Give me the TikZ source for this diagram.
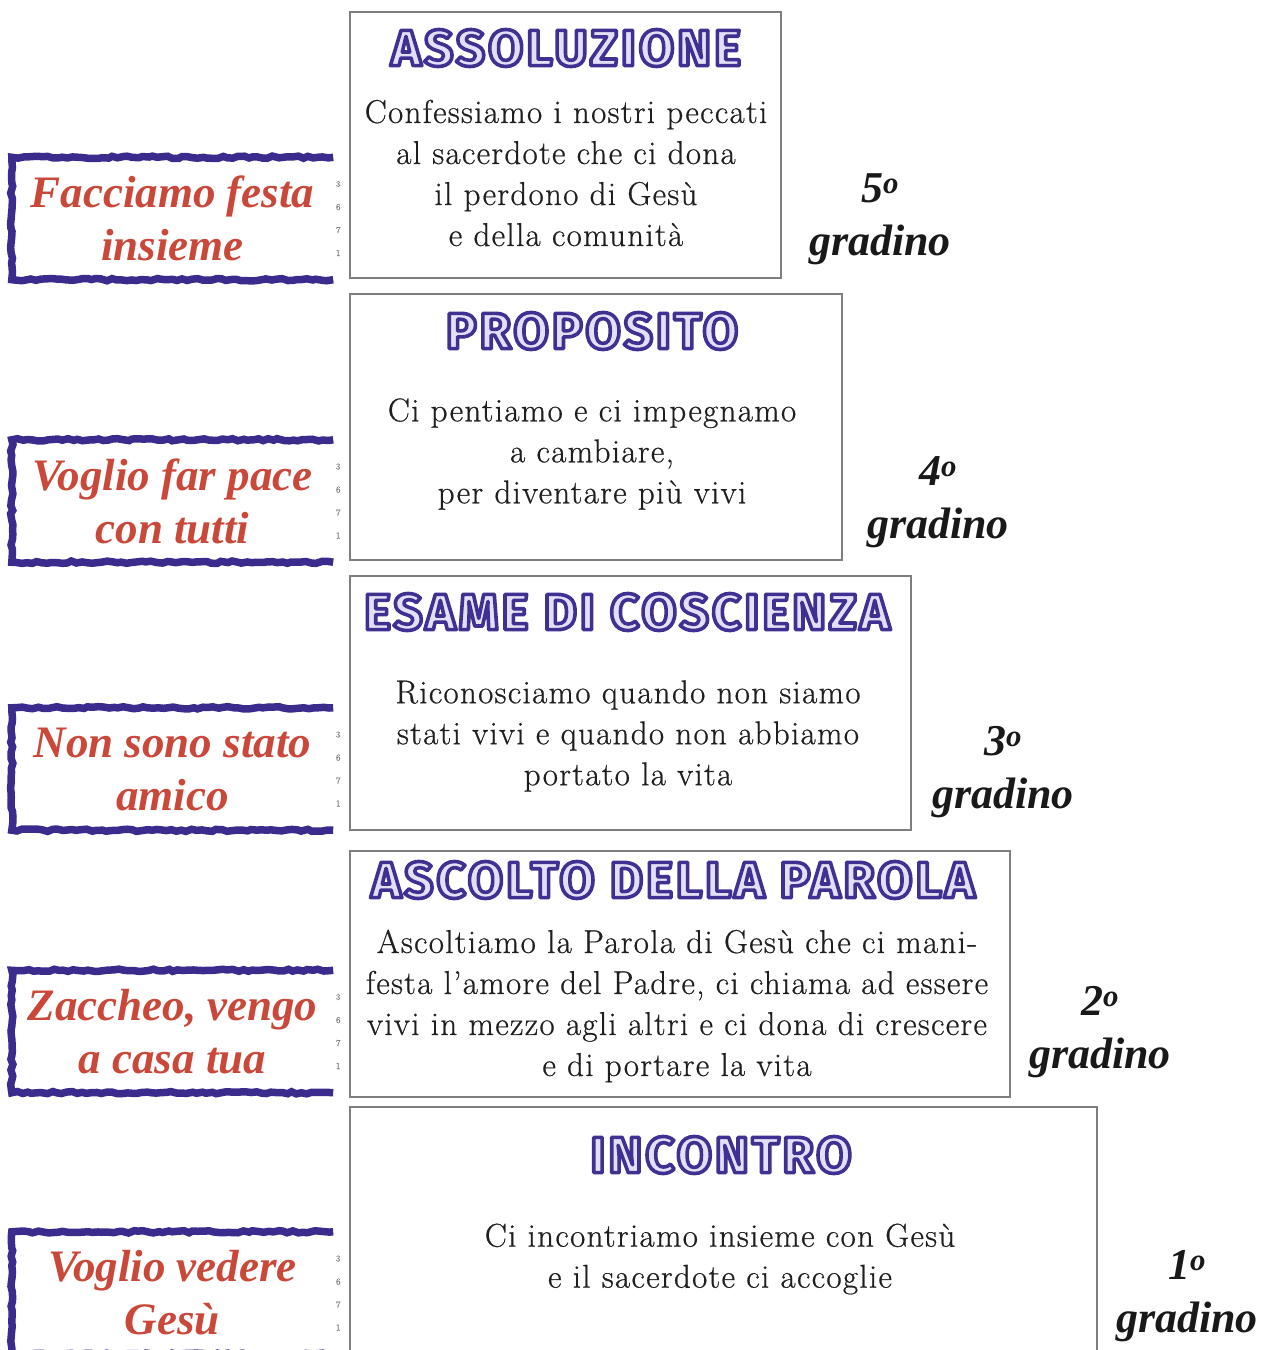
\documentclass[tikz,border=0pt]{standalone}
\usepackage{fontspec}
\usetikzlibrary{decorations.pathmorphing}
\setmainfont[LetterSpace=4, FakeBold=0.6]{Latin Modern Roman}
\newfontfamily\titlefam[LetterSpace=6]{Fira Sans}
\newfontfamily\stampfam{Liberation Serif}
\definecolor{tdark}{HTML}{3F3192}
\definecolor{stampblue}{HTML}{3A2B8C}
\definecolor{stampred}{HTML}{C9483A}
\definecolor{boxgray}{HTML}{7E7E7E}
\newcommand\outlined[1]{\special{pdf:literal direct 2 Tr 3.6 w 1 j 0.90 0.87 0.97 rg}#1\special{pdf:literal direct 0 Tr 1 w 0 j}}
\tikzset{
  stepbox/.style={draw=boxgray, line width=2.4pt, fill=white, inner sep=0pt},
  bodytxt/.style={align=center, font=\fontsize{33}{41}\selectfont, text=black!88, inner sep=0pt},
  titletxt/.style={font=\titlefam\bfseries\fontsize{51}{51}\selectfont, inner sep=0pt},
  stamptxt/.style={align=center, text=stampred, font=\stampfam\bfseries\itshape\fontsize{45}{53}\selectfont, minimum width=321pt, minimum height=122pt, inner sep=0pt},
  stampframe/.style={draw=stampblue, line width=7.5pt, decorate, decoration={random steps, segment length=5pt, amplitude=1.2pt}},
  gradlbl/.style={align=center, font=\stampfam\bfseries\itshape\fontsize{44}{53}\selectfont, text=black!90, inner sep=0pt},
  digits/.style={align=center, font=\fontsize{9}{23}\selectfont, text=gray, inner sep=0pt}
}
\newcommand\fancytitle[3]{%
  \node[titletxt, text=tdark] (#1) at (#2) {\outlined{#3}};}
\newcommand\stamp[3]{%
  \node[stamptxt] (#1) at (#2) {#3};
  \draw[stampframe] (#1.north east) -- (#1.north west) -- (#1.south west) -- (#1.south east);
  \node[digits] (#1d) at ([xshift=5pt]#1.east) {3\\6\\7\\1};}
\begin{document}
\begin{tikzpicture}[x=1pt, y=-1pt]
\useasboundingbox[fill=white] (0,0) rectangle (1266,1350);
% main boxes
\node[stepbox, minimum width=431pt, minimum height=266pt] (b1) at (565.5,145) {};
\node[stepbox, minimum width=492pt, minimum height=266pt] (b2) at (596,427) {};
\node[stepbox, minimum width=561pt, minimum height=254pt] (b3) at (630.5,703) {};
\node[stepbox, minimum width=660pt, minimum height=246pt] (b4) at (680,974) {};
\node[stepbox, minimum width=747pt, minimum height=250pt] (b5) at (723.5,1232) {};
% titles
\fancytitle{t1}{566,48}{ASSOLUZIONE}
\fancytitle{t2}{592,331}{PROPOSITO}
\fancytitle{t3}{627,612}{ESAME DI COSCIENZA}
\fancytitle{t4}{673,880}{ASCOLTO DELLA PAROLA}
\fancytitle{t5}{721,1155}{INCONTRO}
% body texts
\node[bodytxt] (x1) at (566,173) {Confessiamo i nostri peccati\\al sacerdote che ci dona\\il perdono di Gesù\\e della comunità};
\node[bodytxt] (x2) at (592,454) {Ci pentiamo e ci impegnamo\\a cambiare,\\per diventare più vivi};
\node[bodytxt] (x3) at (628,736) {Riconosciamo quando non siamo\\stati vivi e quando non abbiamo\\portato la vita};
\node[bodytxt] (x4) at (677,1006) {Ascoltiamo la Parola di Gesù che ci mani-\\festa l’amore del Padre, ci chiama ad essere\\vivi in mezzo agli altri e ci dona di crescere\\e di portare la vita};
\node[bodytxt] (x5) at (720,1259) {Ci incontriamo insieme con Gesù\\e il sacerdote ci accoglie};
% stamps
\stamp{s1}{172.5,218.5}{Facciamo festa\\insieme}
\stamp{s2}{172.5,501}{Voglio far pace\\con tutti}
\stamp{s3}{172.5,769}{Non sono stato\\amico}
\stamp{s4}{172.5,1031.5}{Zaccheo, vengo\\a casa tua}
\stamp{s5}{172.5,1293}{Voglio vedere\\Gesù}
% step labels
\node[gradlbl] (g5) at (880,219) {5\textsuperscript{o}\\gradino};
\node[gradlbl] (g4) at (938,502) {4\textsuperscript{o}\\gradino};
\node[gradlbl] (g3) at (1003,772) {3\textsuperscript{o}\\gradino};
\node[gradlbl] (g2) at (1100,1032) {2\textsuperscript{o}\\gradino};
\node[gradlbl] (g1) at (1187,1296) {1\textsuperscript{o}\\gradino};
\end{tikzpicture}
\end{document}
